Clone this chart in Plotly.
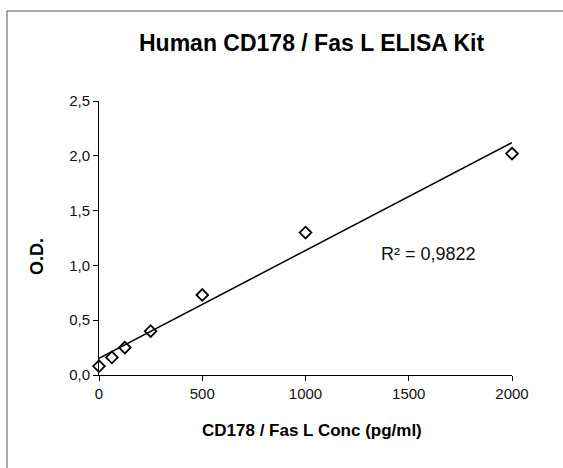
import numpy as np
import plotly.graph_objects as go

conc = [0, 62.5, 125, 250, 500, 1000, 2000]
od = [0.08, 0.16, 0.25, 0.40, 0.73, 1.30, 2.02]
x_ticks = [0, 500, 1000, 1500, 2000]
y_ticks = [0.0, 0.5, 1.0, 1.5, 2.0, 2.5]
title = "Human CD178 / Fas L ELISA Kit"
x_title = "CD178 / Fas L Conc (pg/ml)"
y_title = "O.D."
r2_label = "R² = 0,9822"

slope, intercept = np.polyfit(conc, od, 1)
fit_x = [min(conc), max(conc)]
fit_y = list(np.polyval([slope, intercept], fit_x))

W, H = 563, 468
L, R, T, B = 99, 51, 101, 93
pw, ph = W - L - R, H - T - B


def px(x):
    return (x - L) / pw


def py(y):
    return (H - B - y) / ph


FONT = "Liberation Sans, Arial, sans-serif"

fig = go.Figure()
fig.add_trace(go.Scatter(x=fit_x, y=fit_y, mode="lines", cliponaxis=False,
                         line=dict(color="black", width=1.5), showlegend=False, hoverinfo="skip"))
fig.add_trace(go.Scatter(x=conc, y=od, mode="markers", cliponaxis=False,
                         marker=dict(symbol="diamond-open", size=9, color="black",
                                     line=dict(width=1.8, color="black")),
                         showlegend=False))

fig.add_annotation(x=1598, y=1.10, xref="x", yref="y", text=r2_label,
                   showarrow=False, font=dict(family=FONT, size=18, color="#111"))

fig.add_annotation(x=px(311), y=py(43), xref="paper", yref="paper", text=f"<b>{title}</b>",
                   showarrow=False, xanchor="center", yanchor="middle",
                   font=dict(family=FONT, size=23, color="black"))
fig.add_annotation(x=px(312), y=py(430), xref="paper", yref="paper", text=f"<b>{x_title}</b>",
                   showarrow=False, xanchor="center", yanchor="middle",
                   font=dict(family=FONT, size=17, color="black"))
fig.add_annotation(x=px(37), y=py(256), xref="paper", yref="paper", text=f"<b>{y_title}</b>",
                   showarrow=False, xanchor="center", yanchor="middle", textangle=-90,
                   font=dict(family=FONT, size=18, color="black"))

# outer chart border (top and left edges visible in the reference)
fig.add_shape(type="line", xref="paper", yref="paper",
              x0=px(7), x1=px(W), y0=py(11), y1=py(11),
              line=dict(color="#555", width=1), layer="below")
fig.add_shape(type="line", xref="paper", yref="paper",
              x0=px(7), x1=px(7), y0=py(11), y1=py(H),
              line=dict(color="#555", width=1), layer="below")

axis_common = dict(showgrid=False, zeroline=False, automargin=False,
                   showline=True, linecolor="black", linewidth=1, ticks="outside", ticklen=5,
                   tickcolor="black", tickfont=dict(family=FONT, size=15, color="#111"))

fig.update_layout(
    width=W, height=H,
    margin=dict(l=L, r=R, t=T, b=B, pad=0, autoexpand=False),
    paper_bgcolor="white", plot_bgcolor="white",
    separators=",.",
    xaxis=dict(range=[0, 2000], tickvals=x_ticks, **axis_common),
    yaxis=dict(range=[0, 2.5], tickvals=y_ticks, tickformat=".1f", **axis_common),
)

fig.write_html("out.html", config={"displayModeBar": False},
               post_script="document.body.style.margin='0';document.body.style.overflow='hidden';")
